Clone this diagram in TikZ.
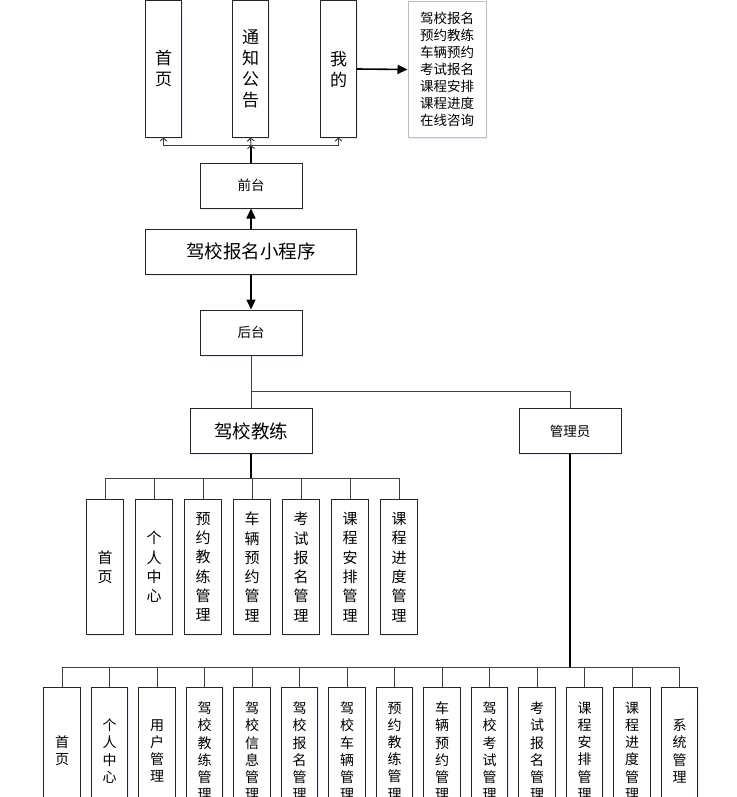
\documentclass[tikz,border=0pt]{standalone}
\usepackage{fontspec}
\newfontfamily\cjk{Noto Sans CJK SC}
\usepackage{tikz}
\usetikzlibrary{arrows.meta,shadows}

\begin{document}
\begin{tikzpicture}[x=1pt,y=-1pt,line width=1pt,
                    >={Triangle[length=10pt,width=9pt]}]

  \tikzstyle{box}=[draw=black!85,fill=white,line width=1pt,inner sep=0pt,align=center,
                   drop shadow={shadow xshift=1pt,shadow yshift=-1.5pt,fill=blue!30,opacity=0.25}]
  \tikzstyle{topbox}=[box,minimum width=36pt,minimum height=136pt,font=\cjk\fontsize{17}{21}\selectfont]
  \tikzstyle{listbox}=[box,draw=black!25,minimum width=78pt,minimum height=135pt,font=\cjk\fontsize{13.5}{17}\selectfont]
  \tikzstyle{midbox}=[box,minimum width=102pt,minimum height=45pt,font=\cjk\fontsize{13.5}{16}\selectfont]
  \tikzstyle{appbox}=[box,minimum height=45pt,font=\cjk\fontsize{18.5}{22}\selectfont]
  \tikzstyle{colbox}=[box,minimum width=36.5pt,minimum height=135.5pt,font=\cjk\fontsize{15}{19.3}\selectfont]
  \tikzstyle{admbox}=[box,minimum width=36.5pt,minimum height=127pt,font=\cjk\fontsize{14}{17.1}\selectfont]
  \tikzstyle{bus}=[draw=black!75,line width=1pt]
  \tikzstyle{open}=[bus,-{Straight Barb[length=3pt,width=7pt]}]

  \useasboundingbox (0,0) rectangle (736,797);
  \clip (0,0) rectangle (736,797);

  % front end
  \node[topbox]  (HOM) at (163.5,69)  {首\\页};
  \node[topbox]  (NTC) at (250.5,69)  {通\\知\\公\\告};
  \node[topbox]  (MIN) at (338.5,69)  {我\\的};
  \node[listbox] (LST) at (447,69.5)  {驾校报名\\预约教练\\车辆预约\\考试报名\\课程安排\\课程进度\\在线咨询};

  \node[midbox]  (FRT) at (251,185.5) {前台};
  \node[appbox,minimum width=211pt] (APP) at (251,251.5) {驾校报名小程序};
  \node[midbox]  (BCK) at (251,332.5) {后台};

  % back end
  \node[appbox,minimum width=122pt] (CCH) at (251,431) {驾校教练};
  \node[midbox]  (ADM) at (570,431)   {管理员};

  \node[colbox]  (CHM) at (105,567)   {首\\页};
  \node[colbox]  (CPC) at (154,567)   {个\\人\\中\\心};
  \node[colbox]  (CRC) at (203,567)   {预\\约\\教\\练\\管\\理};
  \node[colbox]  (CVR) at (252,567)   {车\\辆\\预\\约\\管\\理};
  \node[colbox]  (CER) at (301,567)   {考\\试\\报\\名\\管\\理};
  \node[colbox]  (CSC) at (350,567)   {课\\程\\安\\排\\管\\理};
  \node[colbox]  (CPG) at (399,567)   {课\\程\\进\\度\\管\\理};

  \node[admbox]  (AHM) at (62,751)    {首\\页};
  \node[admbox]  (APC) at (109.5,751) {个\\人\\中\\心};
  \node[admbox]  (AUS) at (157,751)   {用\\户\\管\\理};
  \node[admbox]  (ACO) at (204.5,751) {驾\\校\\教\\练\\管\\理};
  \node[admbox]  (AIN) at (252,751)   {驾\\校\\信\\息\\管\\理};
  \node[admbox]  (AEN) at (299.5,751) {驾\\校\\报\\名\\管\\理};
  \node[admbox]  (AVH) at (347,751)   {驾\\校\\车\\辆\\管\\理};
  \node[admbox]  (ARC) at (394.5,751) {预\\约\\教\\练\\管\\理};
  \node[admbox]  (AVR) at (442,751)   {车\\辆\\预\\约\\管\\理};
  \node[admbox]  (AEX) at (489.5,751) {驾\\校\\考\\试\\管\\理};
  \node[admbox]  (AER) at (537,751)   {考\\试\\报\\名\\管\\理};
  \node[admbox]  (ASC) at (584.5,751) {课\\程\\安\\排\\管\\理};
  \node[admbox]  (APG) at (632,751)   {课\\程\\进\\度\\管\\理};
  \node[admbox]  (ASY) at (679.5,751) {系\\统\\管\\理};

  \coordinate (TBUS) at (251,145);
  \coordinate (BBUS) at (251,391.5);
  \coordinate (CBUS) at (251,478);
  \coordinate (ABUS) at (570,667);

  \draw[line width=1.6pt] (FRT.north) -- (TBUS);
  \path[open]
  (TBUS) edge (NTC.south)
  (TBUS) edge [to path={-| (\tikztotarget)}] (HOM.south)
  (TBUS) edge [to path={-| (\tikztotarget)}] (MIN.south)
  ;

  \draw[->,line width=1.6pt] (MIN.east)  -- (LST.west);
  \draw[->,line width=1.6pt] (APP.north) -- (FRT.south);
  \draw[->,line width=1.6pt] (APP.south) -- (BCK.north);

  \draw[bus] (BCK.south) -- (CCH.north);
  \draw[bus] (BBUS) -| (ADM.north);

  \draw[line width=1.6pt] (CCH.south) -- (CBUS);
  \foreach \n in {CHM,CPC,CRC,CVR,CER,CSC,CPG}
    \draw[bus] (CBUS) -| (\n.north);

  \draw[line width=1.6pt] (ADM.south) -- (ABUS);
  \foreach \n in {AHM,APC,AUS,ACO,AIN,AEN,AVH,ARC,AVR,AEX,AER,ASC,APG,ASY}
    \draw[bus] (ABUS) -| (\n.north);
\end{tikzpicture}
\end{document}
